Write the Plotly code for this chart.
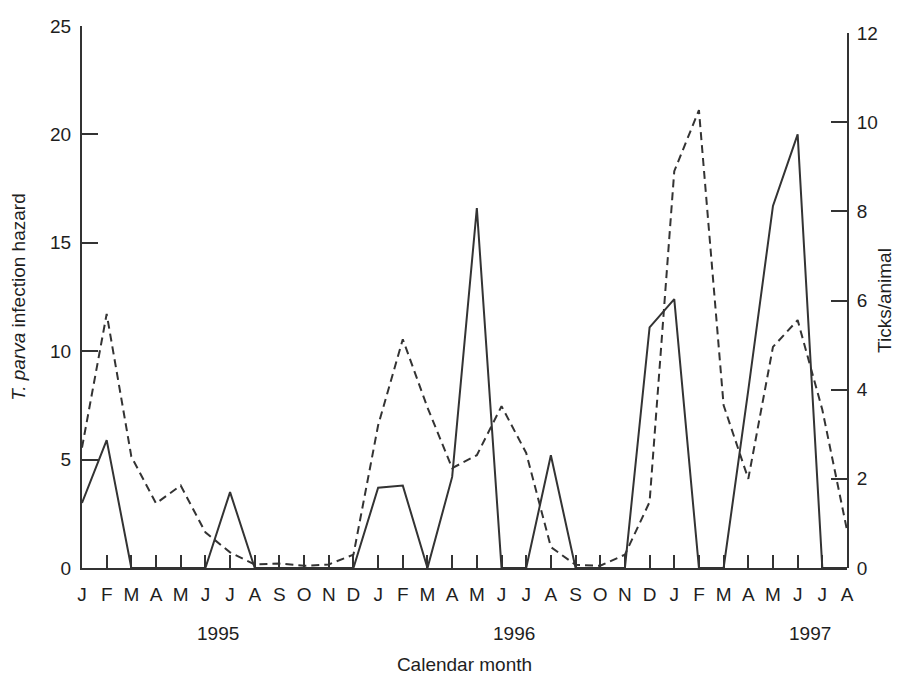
import plotly.graph_objects as go

months = ["J", "F", "M", "A", "M", "J", "J", "A", "S", "O", "N", "D",
          "J", "F", "M", "A", "M", "J", "J", "A", "S", "O", "N", "D",
          "J", "F", "M", "A", "M", "J", "J", "A"]
years = ["1995", "1996", "1997"]

# T. parva infection hazard (left axis, solid)
hazard = [3.0, 5.9, 0, 0, 0, 0, 3.5, 0, 0, 0, 0, 0,
          3.7, 3.8, 0, 4.2, 16.6, 0, 0, 5.2, 0, 0, 0, 11.1,
          12.4, 0, 0, 8.2, 16.7, 20.0, 0, 0]

# Ticks/animal (right axis, dashed)
ticks = [2.7, 5.7, 2.5, 1.45, 1.85, 0.8, 0.35, 0.08, 0.1, 0.05, 0.08, 0.3,
         3.2, 5.13, 3.6, 2.24, 2.53, 3.63, 2.58, 0.47, 0.07, 0.05, 0.3, 1.48,
         8.9, 10.27, 3.65, 2.0, 4.96, 5.56, 3.55, 0.85]

x = list(range(len(months)))

FONT = "Liberation Sans Narrow, Arial Narrow, Liberation Sans, Arial, sans-serif"
TXT = "#1e1e1e"
LINE = "#333333"
FS = 19

fig = go.Figure()
fig.add_trace(go.Scatter(x=x, y=ticks, mode="lines", xaxis="x", yaxis="y2",
                         line=dict(color=LINE, width=2, dash="8px,5px"),
                         showlegend=False))
fig.add_trace(go.Scatter(x=x, y=hazard, mode="lines", xaxis="x", yaxis="y",
                         line=dict(color=LINE, width=2), showlegend=False))

ann = []
for k, yr in enumerate(years):
    ann.append(dict(x=12 * k + 5.5, y=-0.121, xref="x", yref="paper",
                    text=yr, showarrow=False, yanchor="middle",
                    font=dict(family=FONT, size=FS, color=TXT)))

fig.update_layout(
    width=896, height=667,
    paper_bgcolor="white", plot_bgcolor="rgba(0,0,0,0)",
    margin=dict(l=74, r=57, t=18, b=107),
    font=dict(family=FONT, size=FS, color=TXT),
    xaxis=dict(range=[0, 31], tickvals=x, ticktext=months, automargin=False,
               showgrid=False, zeroline=False, showline=True,
               linecolor=LINE, linewidth=2, ticks="inside", ticklen=13,
               tickwidth=2, tickcolor=LINE, tickangle=0, ticklabelstandoff=8,
               tickfont=dict(family=FONT, size=FS, color=TXT),
               title=dict(text="Calendar month", standoff=56,
                          font=dict(family=FONT, size=FS, color=TXT))),
    yaxis=dict(range=[0, 25], tickvals=[0, 5, 10, 15, 20, 25], automargin=False,
               showgrid=False, zeroline=False, showline=True,
               linecolor=LINE, linewidth=2, ticks="inside", ticklen=16,
               tickwidth=2, tickcolor=LINE, ticklabelstandoff=5,
               tickfont=dict(family=FONT, size=FS, color=TXT),
               title=dict(text="<i>T. parva</i> infection hazard", standoff=20,
                          font=dict(family=FONT, size=FS, color=TXT))),
    yaxis2=dict(range=[0, 12], tickvals=[0, 2, 4, 6, 8, 10, 12], automargin=False,
                domain=[0, 0.987], anchor="x", side="right",
                showgrid=False, zeroline=False, showline=True,
                linecolor=LINE, linewidth=2, ticks="inside", ticklen=16,
                tickwidth=2, tickcolor=LINE, ticklabelstandoff=4,
                tickfont=dict(family=FONT, size=FS, color=TXT),
                title=dict(text="Ticks/animal", standoff=1,
                           font=dict(family=FONT, size=FS, color=TXT))),
    annotations=ann,
)

fig.write_html("out.html")
